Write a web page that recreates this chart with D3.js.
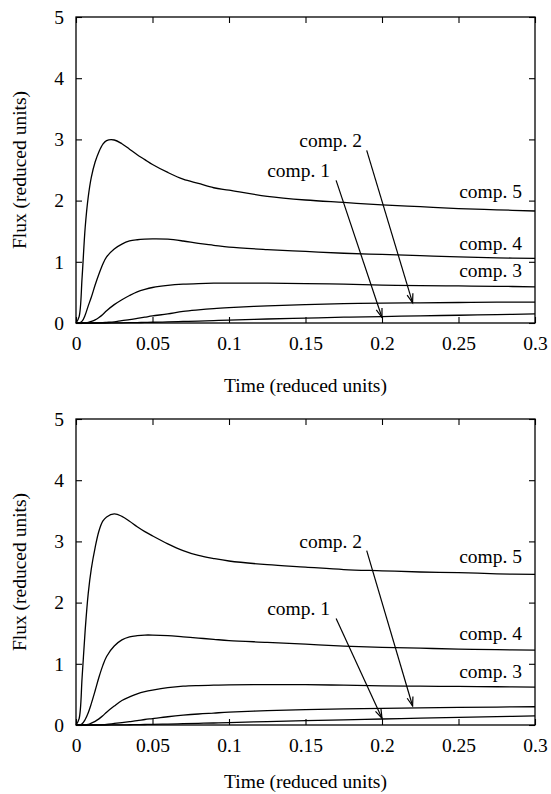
<!DOCTYPE html>
<html>
<head>
<meta charset="utf-8">
<script src="https://cdn.jsdelivr.net/npm/d3@7"></script>
<style>
  body { margin: 0; background: #fff; }
  svg text { font-family: "Liberation Serif", "Times New Roman", Times, serif; fill: #000; }
</style>
</head>
<body>
<div id="chart"></div>
<script>
// sample times (reduced units), shared by every curve
var time = [0, 0.002, 0.004, 0.006, 0.008, 0.01, 0.0125, 0.015, 0.0175, 0.02,
  0.025, 0.03, 0.035, 0.04, 0.045, 0.05, 0.06, 0.07, 0.08, 0.09, 0.1,
  0.125, 0.15, 0.175, 0.2, 0.225, 0.25, 0.275, 0.3];

// top panel
var topComp5 = [0, 0.1, 0.75, 1.56, 2.06, 2.38, 2.63, 2.8, 2.92, 2.98,
  2.99, 2.93, 2.84, 2.75, 2.67, 2.59, 2.46, 2.35, 2.28, 2.21, 2.17,
  2.07, 2.01, 1.97, 1.93, 1.9, 1.87, 1.85, 1.83];
var topComp4 = [0, 0, 0.03, 0.13, 0.28, 0.42, 0.62, 0.8, 0.96, 1.08,
  1.21, 1.29, 1.34, 1.36, 1.37, 1.375, 1.37, 1.34, 1.3, 1.27, 1.24,
  1.2, 1.17, 1.14, 1.12, 1.1, 1.08, 1.065, 1.055];
var topComp3 = [0, 0, 0, 0, 0.01, 0.025, 0.05, 0.09, 0.14, 0.2,
  0.3, 0.38, 0.45, 0.51, 0.55, 0.58, 0.615, 0.635, 0.645, 0.65, 0.65,
  0.65, 0.645, 0.635, 0.62, 0.61, 0.605, 0.6, 0.59];
var topComp2 = [0, 0, 0, 0, 0, 0, 0, 0.002, 0.005, 0.01,
  0.02, 0.04, 0.055, 0.075, 0.095, 0.115, 0.15, 0.19, 0.215, 0.235, 0.25,
  0.28, 0.3, 0.315, 0.325, 0.33, 0.335, 0.34, 0.34];
var topComp1 = [0, 0, 0, 0, 0, 0, 0, 0, 0, 0,
  0.001, 0.003, 0.005, 0.007, 0.01, 0.012, 0.018, 0.025, 0.032, 0.04, 0.047,
  0.065, 0.08, 0.095, 0.105, 0.117, 0.127, 0.138, 0.148];

// bottom panel
var botComp5 = [0, 0.1, 0.78, 1.55, 2.15, 2.55, 2.9, 3.17, 3.33, 3.4,
  3.45, 3.41, 3.33, 3.24, 3.16, 3.09, 2.96, 2.85, 2.77, 2.72, 2.68,
  2.62, 2.58, 2.54, 2.52, 2.5, 2.49, 2.47, 2.46];
var botComp4 = [0, 0, 0.02, 0.09, 0.2, 0.35, 0.56, 0.78, 0.97, 1.12,
  1.29, 1.39, 1.44, 1.46, 1.47, 1.47, 1.46, 1.44, 1.42, 1.4, 1.38,
  1.35, 1.32, 1.29, 1.27, 1.255, 1.24, 1.23, 1.225];
var botComp3 = [0, 0, 0, 0, 0.01, 0.03, 0.06, 0.1, 0.15, 0.21,
  0.31, 0.4, 0.46, 0.51, 0.545, 0.57, 0.61, 0.635, 0.645, 0.65, 0.655,
  0.66, 0.66, 0.65, 0.64, 0.635, 0.63, 0.625, 0.62];
var botComp2 = [0, 0, 0, 0, 0, 0, 0, 0.002, 0.005, 0.01,
  0.025, 0.04, 0.055, 0.07, 0.09, 0.105, 0.135, 0.16, 0.18, 0.195, 0.21,
  0.235, 0.25, 0.262, 0.272, 0.28, 0.287, 0.293, 0.298];
var botComp1 = [0, 0, 0, 0, 0, 0, 0, 0, 0, 0,
  0.001, 0.002, 0.004, 0.006, 0.008, 0.01, 0.015, 0.021, 0.027, 0.033, 0.04,
  0.055, 0.07, 0.085, 0.098, 0.112, 0.125, 0.137, 0.148];

var xTicks = [0, 0.05, 0.1, 0.15, 0.2, 0.25, 0.3];
var yTicks = [0, 1, 2, 3, 4, 5];

// label text, anchor point (end of text, baseline) in data units
var topLabels = [
  { text: "comp. 5", x: 0.2915, y: 2.04 },
  { text: "comp. 4", x: 0.2915, y: 1.19 },
  { text: "comp. 3", x: 0.2915, y: 0.75 },
  { text: "comp. 2", x: 0.187, y: 2.87 },
  { text: "comp. 1", x: 0.166, y: 2.38 }
];
var botLabels = [
  { text: "comp. 5", x: 0.2915, y: 2.64 },
  { text: "comp. 4", x: 0.2915, y: 1.39 },
  { text: "comp. 3", x: 0.2915, y: 0.76 },
  { text: "comp. 2", x: 0.187, y: 2.89 },
  { text: "comp. 1", x: 0.166, y: 1.8 }
];
// arrows from label to curve
var topArrows = [
  { x1: 0.19, y1: 2.82, x2: 0.22, y2: 0.33 },
  { x1: 0.17, y1: 2.33, x2: 0.2, y2: 0.09 }
];
var botArrows = [
  { x1: 0.19, y1: 2.85, x2: 0.22, y2: 0.31 },
  { x1: 0.17, y1: 1.74, x2: 0.2, y2: 0.11 }
];

var svgWidth = 551;
var svgHeight = 794;
var margin = { left: 76, right: 16 };
var width = svgWidth - margin.left - margin.right;
var height = 306;
var serif = "'Liberation Serif', 'Times New Roman', Times, serif";
var fontSize = "19.5px";

var svg = d3.select("#chart")
  .append("svg")
  .attr("width", svgWidth)
  .attr("height", svgHeight)
  .attr("font-family", serif);

svg.append("defs").append("marker")
  .attr("id", "head")
  .attr("markerUnits", "userSpaceOnUse")
  .attr("viewBox", "-10 -5 12 10")
  .attr("refX", 0)
  .attr("refY", 0)
  .attr("markerWidth", 12)
  .attr("markerHeight", 10)
  .attr("orient", "auto")
  .append("path")
  .attr("d", "M-9,-3L0,0L-9,3")
  .attr("fill", "none")
  .attr("stroke", "#000")
  .attr("stroke-width", 1.2);

function drawPanel(top, series, labels, arrows, titleY) {
  var g = svg.append("g")
    .attr("transform", `translate(${margin.left}, ${top})`);

  var x = d3.scaleLinear().domain([0, 0.3]).range([0, width]);
  var y = d3.scaleLinear().domain([0, 5]).range([height, 0]);

  var tickLen = 6;
  var fmt = d => d === 0 ? "0" : String(d);

  var bottomAxis = d3.axisBottom(x).tickValues(xTicks).tickFormat(fmt)
    .tickSizeInner(-tickLen).tickSizeOuter(0).tickPadding(13);
  var leftAxis = d3.axisLeft(y).tickValues(yTicks).tickFormat(fmt)
    .tickSizeInner(-tickLen).tickSizeOuter(0).tickPadding(12);
  var topAxis = d3.axisTop(x).tickValues(xTicks).tickFormat("")
    .tickSizeInner(-tickLen).tickSizeOuter(0);
  var rightAxis = d3.axisRight(y).tickValues(yTicks).tickFormat("")
    .tickSizeInner(-tickLen).tickSizeOuter(0);

  g.append("g").attr("transform", `translate(0, ${height})`).call(bottomAxis);
  g.append("g").call(leftAxis);
  g.append("g").call(topAxis);
  g.append("g").attr("transform", `translate(${width}, 0)`).call(rightAxis);

  g.selectAll(".domain").remove();
  g.selectAll(".tick line").attr("stroke", "#000").attr("stroke-width", 1.1);
  g.selectAll("g").attr("font-family", serif).attr("font-size", fontSize);
  g.selectAll(".tick text").attr("fill", "#000");

  g.append("rect")
    .attr("width", width)
    .attr("height", height)
    .attr("fill", "none")
    .attr("stroke", "#000")
    .attr("stroke-width", 1.3);

  var line = d3.line()
    .x((d, i) => x(time[i]))
    .y(d => y(d))
    .curve(d3.curveCatmullRom.alpha(0.5));

  g.selectAll("path.curve")
    .data(series)
    .enter()
    .append("path")
    .attr("class", "curve")
    .attr("d", d => line(d))
    .attr("fill", "none")
    .attr("stroke", "#000")
    .attr("stroke-width", 1.3);

  g.selectAll("line.arrow")
    .data(arrows)
    .enter()
    .append("line")
    .attr("class", "arrow")
    .attr("x1", d => x(d.x1))
    .attr("y1", d => y(d.y1))
    .attr("x2", d => x(d.x2))
    .attr("y2", d => y(d.y2))
    .attr("stroke", "#000")
    .attr("stroke-width", 1.2)
    .attr("marker-end", "url(#head)");

  g.selectAll("text.label")
    .data(labels)
    .enter()
    .append("text")
    .attr("class", "label")
    .attr("x", d => x(d.x))
    .attr("y", d => y(d.y))
    .attr("text-anchor", "end")
    .attr("font-size", fontSize)
    .text(d => d.text);

  g.append("text")
    .attr("transform", `translate(-50, ${height / 2}) rotate(-90)`)
    .attr("text-anchor", "middle")
    .attr("font-size", fontSize)
    .text("Flux (reduced units)");

  g.append("text")
    .attr("x", width / 2)
    .attr("y", titleY)
    .attr("text-anchor", "middle")
    .attr("font-size", fontSize)
    .text("Time (reduced units)");
}

drawPanel(17, [topComp5, topComp4, topComp3, topComp2, topComp1], topLabels, topArrows, 375);
drawPanel(419, [botComp5, botComp4, botComp3, botComp2, botComp1], botLabels, botArrows, 369);
</script>
</body>
</html>
